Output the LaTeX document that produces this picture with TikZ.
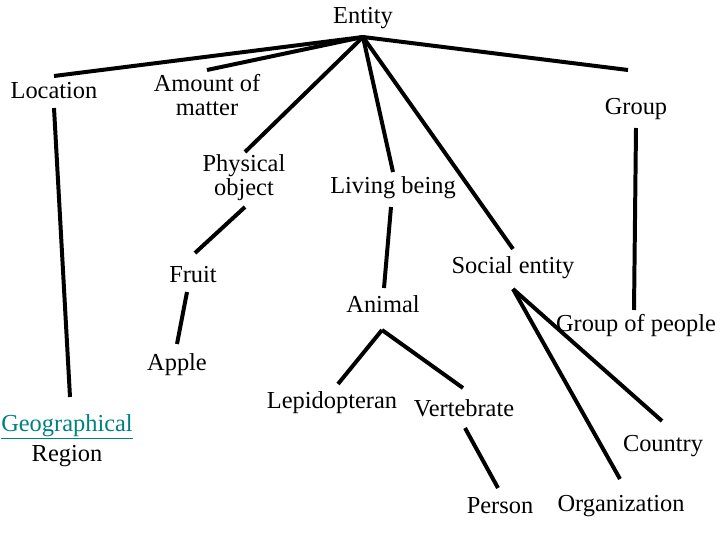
\documentclass[tikz,border=0pt]{standalone}
\usepackage{fontspec}
\setmainfont{Liberation Serif}
\begin{document}
\begin{tikzpicture}[x=1bp,y=-1bp,
  lbl/.style={inner sep=0pt,align=center,font=\fontsize{24.5}{24}\selectfont},
  ln/.style={line width=4pt}]
\useasboundingbox (0,0) rectangle (720,540);
\node[lbl] (entity) at (363,18) {Entity};
\node[lbl] (location) at (54,91) {Location};
\node[lbl] (amount) at (207,95) {Amount of\\matter};
\node[lbl] (group) at (636,109) {Group};
\node[lbl] (phys) at (244,178) {Physical\\object};
\node[lbl] (living) at (393,188) {Living being};
\node[lbl] (fruit) at (193,275) {Fruit};
\node[lbl] (social) at (513,268) {Social entity};
\node[lbl] (animal) at (383,304) {Animal};
\node[lbl] (gop) at (636,326) {Group of people};
\node[lbl] (apple) at (177,365) {Apple};
\node[lbl] (lep) at (332,403) {Lepidopteran};
\node[lbl] (vert) at (464,408) {Vertebrate};
\node[lbl,font=\fontsize{24.5}{30}\selectfont] (geo) at (67,441) {\textcolor[RGB]{0,128,128}{\underline{Geographical}}\\Region};
\node[lbl] (country) at (663,446) {Country};
\node[lbl] (person) at (500,506) {Person};
\node[lbl] (org) at (621,506) {Organization};
\coordinate (eh) at (363,37);
\coordinate (sh) at (513,289);
\coordinate (ah) at (382,330);
\draw[ln] (eh) -- (54,76);
\draw[ln] (eh) -- (207,70);
\draw[ln] (eh) -- (245,152);
\draw[ln] (eh) -- (393,172);
\draw[ln] (eh) -- (513,249);
\draw[ln] (eh) -- (628,70);
\draw[ln] (54,108) -- (70,397);
\draw[ln] (636,128) -- (634,310);
\draw[ln] (245,207) -- (195,253);
\draw[ln] (187,292) -- (177,344);
\draw[ln] (391,207) -- (384,288);
\draw[ln] (ah) -- (338,384);
\draw[ln] (ah) -- (463,388);
\draw[ln] (465,428) -- (498,488);
\draw[ln] (sh) -- (662,421);
\draw[ln] (sh) -- (620,479);
\end{tikzpicture}
\end{document}
